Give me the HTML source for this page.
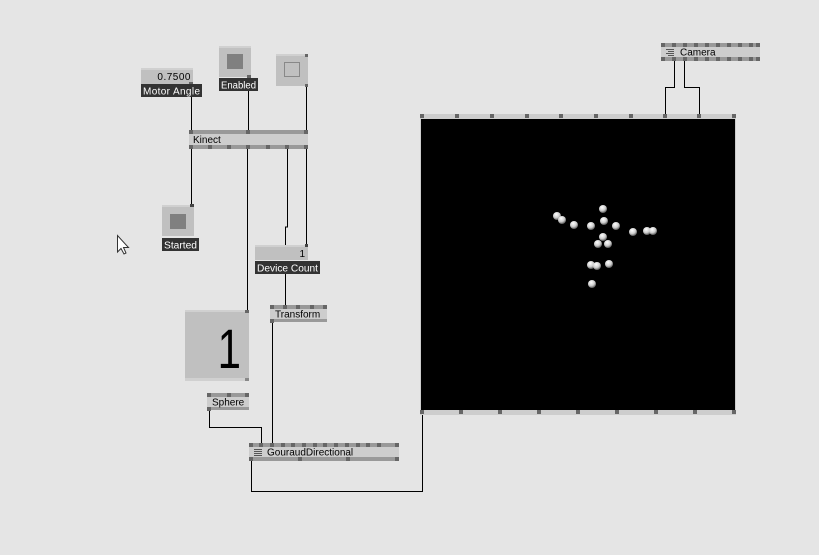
<!DOCTYPE html>
<html><head><meta charset="utf-8"><style>
html,body{margin:0;padding:0;background:#e5e5e5;}
svg{display:block;font-family:"Liberation Sans",sans-serif;}
</style></head><body>
<svg width="819" height="555" viewBox="0 0 819 555" xmlns="http://www.w3.org/2000/svg">
<rect width="819" height="555" fill="#e5e5e5"/>
<g stroke="#000" stroke-width="1" fill="none">
<path d="M191.5 97V131"/>
<path d="M248.5 91V131"/>
<path d="M306.5 86V131"/>
<path d="M191.5 148V206"/>
<path d="M247.5 148V311"/>
<path d="M287.5 148V227H285.5V246"/>
<path d="M306.5 148V246"/>
<path d="M285.5 274V306"/>
<path d="M272.5 321V444"/>
<path d="M209.5 410V427.5H261.5V444"/>
<path d="M251.5 460V491.5H422.5V413"/>
<path d="M674.5 61V87.5H665.5V115"/>
<path d="M684.5 61V87.5H699.5V115"/>
</g>
<rect x="141" y="68" width="52" height="16" fill="#c0c0c0"/>
<rect x="141" y="68" width="52" height="2" fill="#d0d0d0"/>
<text x="191" y="80" font-size="10" text-anchor="end" fill="#000" letter-spacing="0.5">0.7500</text>
<rect x="189" y="82" width="4" height="3" fill="#666"/>
<rect x="141" y="84" width="61" height="13" fill="#333"/>
<text x="143" y="94.5" font-size="10" fill="#fff" textLength="57" lengthAdjust="spacing">Motor Angle</text>
<rect x="219" y="46" width="32" height="31" fill="#c0c0c0"/>
<rect x="219" y="46" width="32" height="2" fill="#d0d0d0"/>
<rect x="227" y="54" width="16" height="15" fill="#808080"/>
<rect x="247" y="75" width="4" height="3" fill="#666"/>
<rect x="219" y="78" width="39" height="13" fill="#333"/>
<text x="221" y="88.5" font-size="10" fill="#fff" textLength="35" lengthAdjust="spacingAndGlyphs">Enabled</text>
<rect x="276" y="54" width="32" height="32" fill="#c0c0c0"/>
<rect x="276" y="54" width="32" height="2" fill="#d0d0d0"/>
<rect x="284.5" y="62.5" width="15" height="14" fill="none" stroke="#888"/>
<rect x="305" y="54" width="3" height="3" fill="#666"/>
<rect x="305" y="84" width="3" height="3" fill="#666"/>
<rect x="189" y="130" width="119" height="19" fill="#cdcdcd"/>
<rect x="189" y="130" width="119" height="4" fill="#999"/>
<rect x="189" y="145" width="119" height="4" fill="#999"/>
<g fill="#666"><rect x="189" y="130" width="4" height="4"/><rect x="246" y="130" width="4" height="4"/><rect x="304" y="130" width="4" height="4"/>
<rect x="189" y="145" width="4" height="4"/><rect x="208" y="145" width="4" height="4"/><rect x="227" y="145" width="4" height="4"/><rect x="246" y="145" width="4" height="4"/><rect x="266" y="145" width="4" height="4"/><rect x="285" y="145" width="4" height="4"/><rect x="304" y="145" width="4" height="4"/></g>
<text x="193" y="143" font-size="10" fill="#000">Kinect</text>
<rect x="162" y="205" width="32" height="31" fill="#c0c0c0"/>
<rect x="162" y="205" width="32" height="2" fill="#d0d0d0"/>
<rect x="170" y="214" width="16" height="15" fill="#808080"/>
<rect x="190" y="204" width="4" height="3" fill="#444"/>
<rect x="162" y="238" width="37" height="13" fill="#333"/>
<text x="164" y="248.5" font-size="10" fill="#fff" textLength="33" lengthAdjust="spacingAndGlyphs">Started</text>
<path d="M117.5 235.5V252L121 248.5L124 254L126 253L123.5 247.5H128.5Z" fill="#fff" stroke="#333" stroke-width="1"/>
<rect x="255" y="245" width="53" height="15" fill="#c0c0c0"/>
<rect x="255" y="245" width="53" height="2" fill="#d0d0d0"/>
<text x="305" y="257" font-size="10" text-anchor="end" fill="#000">1</text>
<rect x="305" y="244" width="3" height="3" fill="#444"/>
<rect x="255" y="261" width="65" height="13" fill="#333"/>
<text x="257" y="271.5" font-size="10" fill="#fff" textLength="61" lengthAdjust="spacingAndGlyphs">Device Count</text>
<rect x="270" y="305" width="57" height="17" fill="#cdcdcd"/>
<rect x="270" y="305" width="57" height="4" fill="#999"/>
<rect x="270" y="319" width="57" height="3" fill="#999"/>
<g fill="#666"><rect x="270" y="305" width="4" height="4"/><rect x="283" y="305" width="4" height="4"/><rect x="296" y="305" width="4" height="4"/><rect x="310" y="305" width="4" height="4"/><rect x="323" y="305" width="4" height="4"/><rect x="270" y="319" width="4" height="4"/></g>
<text x="275" y="317.5" font-size="10" fill="#000">Transform</text>
<rect x="185" y="310" width="64" height="71" fill="#c0c0c0"/>
<rect x="185" y="310" width="64" height="2" fill="#d0d0d0"/>
<rect x="185" y="378" width="64" height="3" fill="#d0d0d0"/>
<rect x="245" y="310" width="4" height="3" fill="#666"/>
<rect x="245" y="378" width="4" height="3" fill="#888"/>
<text transform="translate(241 368) scale(0.75 1)" x="0" y="0" font-size="56" text-anchor="end" fill="#000">1</text>
<rect x="207" y="393" width="42" height="17" fill="#cdcdcd"/>
<rect x="207" y="393" width="42" height="4" fill="#999"/>
<rect x="207" y="407" width="42" height="3" fill="#999"/>
<g fill="#666"><rect x="207" y="393" width="4" height="4"/><rect x="227" y="393" width="4" height="4"/><rect x="245" y="393" width="4" height="4"/><rect x="207" y="407" width="4" height="4"/></g>
<text x="212" y="405.5" font-size="10" fill="#000">Sphere</text>
<rect x="249" y="443" width="150" height="18" fill="#cdcdcd"/>
<rect x="249" y="443" width="150" height="4" fill="#999"/>
<rect x="249" y="457" width="150" height="4" fill="#999"/>
<g fill="#666"><rect x="249" y="443" width="4" height="4"/><rect x="259" y="443" width="4" height="4"/><rect x="270" y="443" width="4" height="4"/><rect x="281" y="443" width="4" height="4"/><rect x="291" y="443" width="4" height="4"/><rect x="302" y="443" width="4" height="4"/><rect x="313" y="443" width="4" height="4"/><rect x="323" y="443" width="4" height="4"/><rect x="334" y="443" width="4" height="4"/><rect x="345" y="443" width="4" height="4"/><rect x="356" y="443" width="4" height="4"/><rect x="366" y="443" width="4" height="4"/><rect x="377" y="443" width="4" height="4"/><rect x="395" y="443" width="4" height="4"/>
<rect x="249" y="457" width="4" height="4"/><rect x="298" y="457" width="4" height="4"/><rect x="346" y="457" width="4" height="4"/><rect x="395" y="457" width="4" height="4"/></g>
<g fill="#555"><rect x="254" y="449" width="8" height="1"/><rect x="254" y="451" width="8" height="1"/><rect x="254" y="453" width="8" height="1"/><rect x="254" y="455" width="8" height="1"/></g>
<text x="267" y="455.5" font-size="10" fill="#000">GouraudDirectional</text>
<rect x="661" y="43" width="99" height="18" fill="#cdcdcd"/>
<rect x="661" y="43" width="99" height="4" fill="#999"/>
<rect x="661" y="57" width="99" height="4" fill="#999"/>
<g fill="#666">
<rect x="661" y="43" width="4" height="4"/><rect x="672" y="43" width="4" height="4"/><rect x="683" y="43" width="4" height="4"/><rect x="694" y="43" width="4" height="4"/><rect x="705" y="43" width="4" height="4"/><rect x="716" y="43" width="4" height="4"/><rect x="727" y="43" width="4" height="4"/><rect x="738" y="43" width="4" height="4"/><rect x="749" y="43" width="4" height="4"/><rect x="756" y="43" width="4" height="4"/>
<rect x="661" y="57" width="4" height="4"/><rect x="672" y="57" width="4" height="4"/><rect x="683" y="57" width="4" height="4"/><rect x="694" y="57" width="4" height="4"/><rect x="705" y="57" width="4" height="4"/><rect x="716" y="57" width="4" height="4"/><rect x="727" y="57" width="4" height="4"/><rect x="738" y="57" width="4" height="4"/><rect x="749" y="57" width="4" height="4"/><rect x="756" y="57" width="4" height="4"/></g>
<g fill="#555"><rect x="666" y="49" width="8" height="1"/><rect x="668" y="51" width="6" height="1"/><rect x="666" y="53" width="8" height="1"/><rect x="668" y="55" width="6" height="1"/></g>
<text x="680" y="55.5" font-size="10" fill="#000">Camera</text>
<rect x="420" y="114" width="316" height="301" fill="#cdcdcd"/>
<rect x="421" y="119" width="314" height="291" fill="#000"/>
<g fill="#666">
<rect x="420" y="114" width="4" height="4"/><rect x="455" y="114" width="4" height="4"/><rect x="490" y="114" width="4" height="4"/><rect x="525" y="114" width="4" height="4"/><rect x="559" y="114" width="4" height="4"/><rect x="594" y="114" width="4" height="4"/><rect x="629" y="114" width="4" height="4"/><rect x="663" y="114" width="4" height="4"/><rect x="697" y="114" width="4" height="4"/><rect x="732" y="114" width="4" height="4"/>
<rect x="420" y="410" width="4" height="4"/><rect x="459" y="410" width="4" height="4"/><rect x="498" y="410" width="4" height="4"/><rect x="537" y="410" width="4" height="4"/><rect x="576" y="410" width="4" height="4"/><rect x="615" y="410" width="4" height="4"/><rect x="654" y="410" width="4" height="4"/><rect x="693" y="410" width="4" height="4"/><rect x="732" y="410" width="4" height="4"/></g>
<defs><radialGradient id="g" cx="0.4" cy="0.3" r="0.7"><stop offset="0" stop-color="#fff"/><stop offset="0.6" stop-color="#ccc"/><stop offset="1" stop-color="#555"/></radialGradient></defs>
<g fill="url(#g)">
<circle cx="557" cy="216" r="4"/><circle cx="562" cy="220" r="4"/><circle cx="574" cy="225" r="4"/><circle cx="591" cy="226" r="4"/><circle cx="603" cy="209" r="4"/><circle cx="604" cy="221" r="4"/><circle cx="616" cy="226" r="4"/><circle cx="633" cy="232" r="4"/><circle cx="647" cy="231" r="4"/><circle cx="653" cy="231" r="4"/><circle cx="603" cy="237" r="4"/><circle cx="598" cy="244" r="4"/><circle cx="608" cy="244" r="4"/><circle cx="591" cy="265" r="4"/><circle cx="597" cy="266" r="4"/><circle cx="609" cy="264" r="4"/><circle cx="592" cy="284" r="4"/>
</g>
</svg>
</body></html>
